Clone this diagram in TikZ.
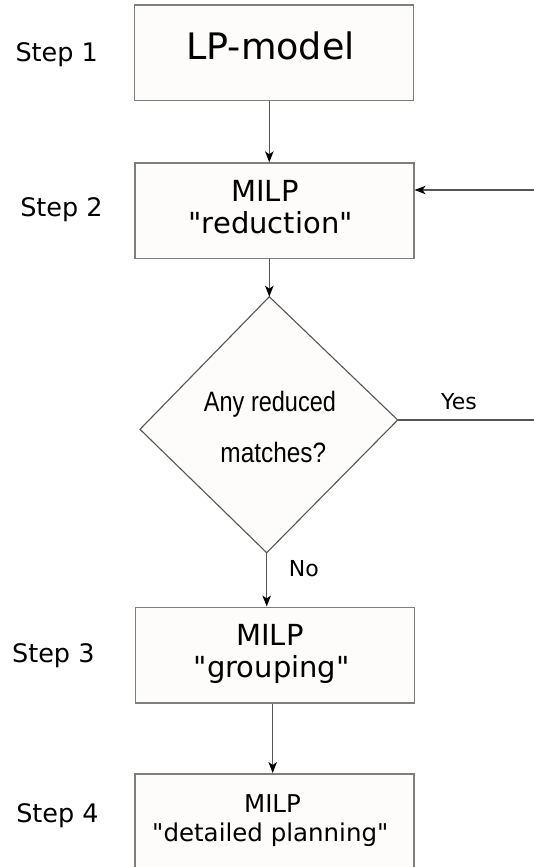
\documentclass[tikz,border=0pt]{standalone}
\usepackage{fontspec}
\newfontfamily\dv{DejaVu Sans}
\newfontfamily\narrowfont{Liberation Sans}
\usetikzlibrary{arrows.meta}

\definecolor{boxfill}{HTML}{FDFCFA}
\definecolor{boxline}{HTML}{7E7E7E}
\definecolor{wireline}{HTML}{555555}

\newcommand{\fs}[1]{\fontsize{#1bp}{1.2\dimexpr#1bp\relax}\selectfont}

\tikzset{
  stagebox/.style={draw=boxline, line width=1.5bp, fill=boxfill,
    minimum width=279bp, minimum height=95.5bp, inner sep=0pt},
  boxtext/.style={anchor=base, inner sep=0pt, text=black},
  steplabel/.style={anchor=base, inner sep=0pt, font=\dv\fs{25.5}},
  flow/.style={draw=wireline, line width=1.1bp,
    -{Stealth[length=11bp, width=8.5bp, inset=3bp, color=black]}},
  plainwire/.style={draw=wireline, line width=1.1bp},
}

\begin{document}
\begin{tikzpicture}[x=1bp, y=-1bp]
  \useasboundingbox (0,0) rectangle (534,867);
  \clip (0,0) rectangle (534,867);
  \fill[white] (0,0) rectangle (534,867);

  % process boxes
  \node[stagebox] (b1) at (273.8, 52.9) {};
  \node[stagebox] (b2) at (274.3, 210.8) {};
  \node[stagebox] (b3) at (275.0, 655.0) {};
  \node[stagebox] (b4) at (274.7, 821.5) {};

  % box texts
  \node[boxtext, font=\dv\fs{36.5}] (t1) at (270.5, 59.3) {LP-model};
  \node[boxtext, font=\dv\fs{29}] (t2a) at (265.0, 201.7) {MILP};
  \node[boxtext, font=\dv\fs{29}] (t2b) at (270.7, 233.3) {"reduction"};
  \node[boxtext, font=\dv\fs{29}] (t3a) at (270.0, 645.0) {MILP};
  \node[boxtext, font=\dv\fs{29}] (t3b) at (271.7, 677.3) {"grouping"};
  \node[boxtext, font=\dv\fs{24.5}] (t4a) at (272.5, 812.3) {MILP};
  \node[boxtext, font=\dv\fs{24.5}] (t4b) at (270.3, 841.7) {"detailed planning"};

  % step labels
  \node[steplabel] (s1) at (56.7, 61.7) {Step 1};
  \node[steplabel] (s2) at (61.5, 216.0) {Step 2};
  \node[steplabel] (s3) at (53.3, 662.7) {Step 3};
  \node[steplabel] (s4) at (57.5, 822.3) {Step 4};

  % decision diamond
  \coordinate (dT) at (269.3, 296.7);
  \coordinate (dL) at (140.0, 429.3);
  \coordinate (dR) at (397.7, 420.0);
  \coordinate (dB) at (266.7, 552.7);
  \draw[draw=wireline, line width=1.1bp, fill=boxfill, line join=miter]
    (dT) -- (dR) -- (dB) -- (dL) -- cycle;
  \node[boxtext, font=\narrowfont\fs{28}] (q1) at (270.0, 411.7)
    {\scalebox{0.84}[1]{Any reduced}};
  \node[boxtext, font=\narrowfont\fs{28}] (q2) at (273.3, 462.7)
    {\scalebox{0.87}[1]{matches?}};

  % branch labels
  \node[boxtext, font=\dv\fs{22}] (yes) at (459.0, 409.3) {Yes};
  \node[boxtext, font=\dv\fs{22}] (no) at (303.8, 576.0) {No};

  % loose ends at the right edge
  \coordinate (loopin) at (534, 190.0);
  \coordinate (loopout) at (534, 420.0);
  \coordinate (c34) at (272.7, 0);

  % connectors
  \draw[flow] (b1.south -| dT) -- (b2.north -| dT);
  \draw[flow] (b2.south -| dT) -- (dT);
  \draw[flow] (dB) -- (dB |- b3.north);
  \draw[flow] (b3.south -| c34) -- (b4.north -| c34);
  \draw[flow] (loopin) -- (loopin -| b2.east);
  \draw[plainwire] (dR) -- (loopout);
\end{tikzpicture}
\end{document}
